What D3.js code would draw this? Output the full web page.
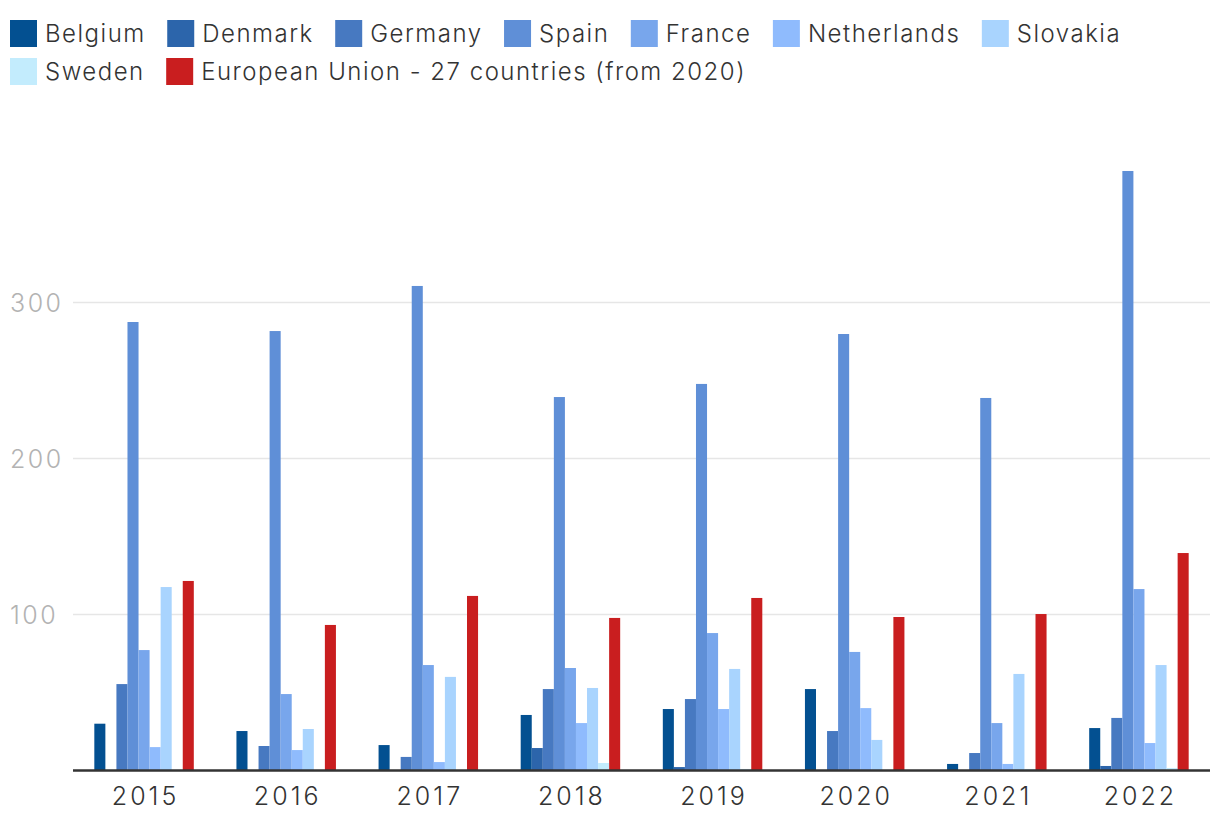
<!DOCTYPE html>
<html><head><meta charset="utf-8">
<script src="https://cdn.jsdelivr.net/npm/d3@7"></script>
<style>
body{margin:0;background:#fff;}
svg{display:block;font-family:Inter, "Noto Sans", sans-serif;font-weight:300;}
</style></head>
<body><svg id="c" width="1220" height="834"></svg>
<script>
const years = ["2015","2016","2017","2018","2019","2020","2021","2022"];
const seriesNames = ["Belgium","Denmark","Germany","Spain","France","Netherlands","Slovakia","Sweden","European Union - 27 countries (from 2020)"];
const seriesColors = ["#035091","#2c65ab","#4779c1","#5f8fd7","#78a6ec","#8fbbfd","#a9d4fe","#c3ecfd","#c91e1f"];
const belgium     = [30, 25.3, 16.3, 35.6, 39.4, 52.2, 4.2, 27.2];
const denmark     = [null, null, null, 14.4, 2.2, null, null, 2.9];
const germany     = [55.4, 15.7, 8.7, 52.2, 45.8, 25.3, 11.2, 33.7];
const spain       = [287.5, 281.7, 310.6, 239.4, 247.8, 279.8, 238.8, 384.3];
const france      = [77.2, 49, 67.6, 65.7, 88.1, 76, 30.4, 116.3];
const netherlands = [15, 13.1, 5.4, 30.4, 39.4, 40, 4.2, 17.6];
const slovakia    = [117.6, 26.6, 60, 52.9, 65.1, 19.6, 61.9, 67.6];
const sweden      = [null, null, null, 4.8, 1, null, 1, 1.6];
const eu27        = [121.5, 93.3, 111.9, 97.8, 110.6, 98.4, 100.3, 139.4];
const yTicks = [100, 200, 300];

const seriesValues = [belgium, denmark, germany, spain, france, netherlands, slovakia, sweden, eu27];

const svg = d3.select("#c");
const x0 = d3.scaleBand().domain(years).range([73, 1210]).paddingInner(0.3).paddingOuter(0.15);
const x1 = d3.scaleBand().domain(seriesNames).range([0, x0.bandwidth()]);
const y = d3.scaleLinear().domain([0, 400]).range([770.5, 146.5]);

// gridlines
const grid = svg.append("g");
grid.selectAll("line").data(yTicks).join("line")
  .attr("x1", 73).attr("x2", 1210)
  .attr("y1", d => y(d)).attr("y2", d => y(d))
  .attr("stroke", "#e6e6e6").attr("stroke-width", 1.5);
grid.selectAll("text").data(yTicks).join("text")
  .attr("x", 10).attr("y", d => y(d)).attr("dy", "0.36em")
  .attr("font-size", 25).attr("letter-spacing", 2.5).attr("fill", "#b3b3b3").text(d => d);

// bars
const groups = svg.append("g").selectAll("g").data(years).join("g")
  .attr("transform", d => `translate(${x0(d)},0)`);
groups.selectAll("rect")
  .data((yr, i) => seriesNames.map((s, j) => ({s, j, v: seriesValues[j][i]})).filter(d => d.v != null))
  .join("rect")
  .attr("x", d => x1(d.s)).attr("width", x1.bandwidth())
  .attr("y", d => y(d.v)).attr("height", d => y(0) - y(d.v))
  .attr("fill", d => seriesColors[d.j]);

// x axis
const xAxis = d3.axisBottom(x0).tickSize(0).tickPadding(17);
const xg = svg.append("g").attr("transform", `translate(0,${y(0)})`).call(xAxis);
xg.select(".domain").attr("stroke", "#333").attr("stroke-width", 2.5).attr("d", "M73,0H1210");
xg.selectAll("text").attr("font-size", 25).attr("letter-spacing", 3).attr("dx", 1.5).attr("fill", "#333")
  .attr("font-family", "Inter, 'Noto Sans', sans-serif").attr("font-weight", 300);

// legend
const legend = svg.append("g");
let lx = 10, ly = 20;
seriesNames.forEach((name, j) => {
  const g = legend.append("g");
  const t = g.append("text").attr("x", 35).attr("y", 13.5).attr("dy", "0.36em")
    .attr("font-size", 24).attr("letter-spacing", 1.5).attr("fill", "#333").text(name);
  const w = t.node().getComputedTextLength();
  const itemW = 35 + w;
  if (lx + itemW > 1215) { lx = 10; ly += 38; }
  g.attr("transform", `translate(${lx},${ly})`);
  g.insert("rect", "text").attr("width", 27).attr("height", 27).attr("fill", seriesColors[j]);
  lx += itemW + 21.5;
});
</script></body></html>
